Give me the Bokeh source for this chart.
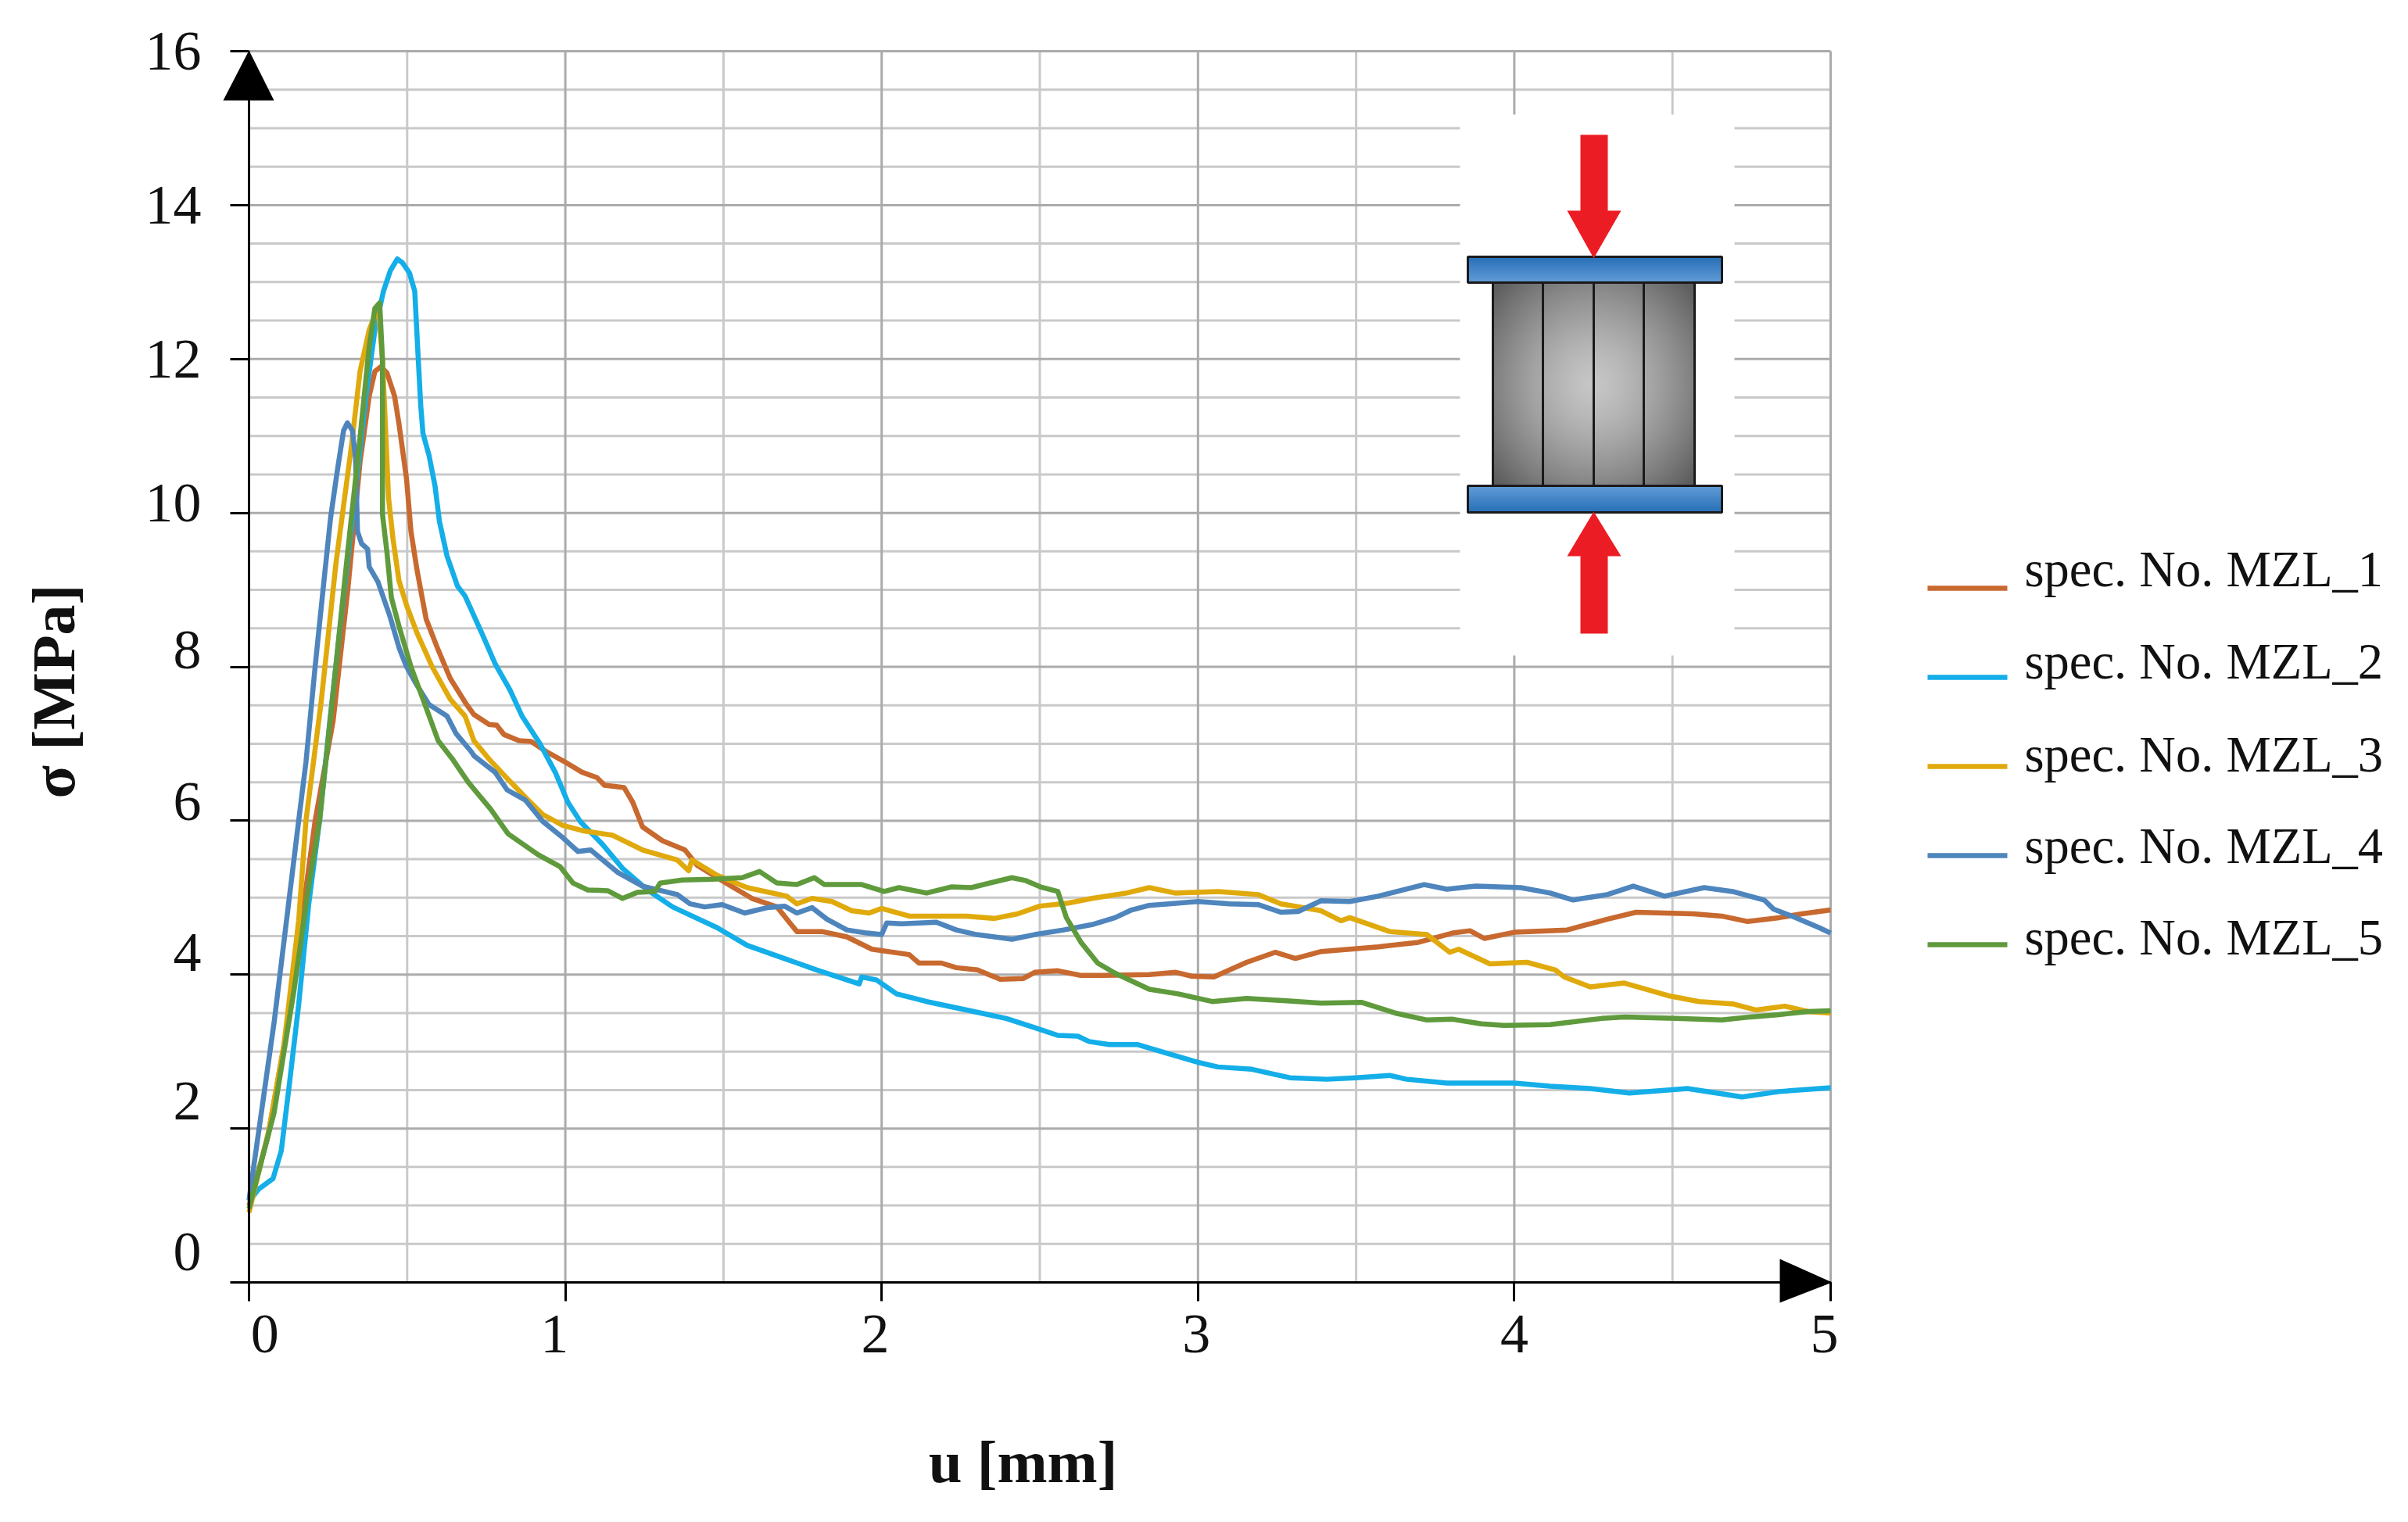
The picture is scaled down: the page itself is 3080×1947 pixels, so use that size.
import numpy as np
from math import pi
from bokeh.plotting import figure
from bokeh.embed import file_html
from bokeh.resources import INLINE
from bokeh.models import (Range1d, LinearAxis, FixedTicker, Label)

SERIF = "Liberation Serif"

names = ["spec. No. MZL_1", "spec. No. MZL_2", "spec. No. MZL_3", "spec. No. MZL_4", "spec. No. MZL_5"]
colors = ["#C8692F", "#14AEE8", "#E0A90C", "#4E85BD", "#5F9A3C"]

x_tick_values = [0, 1, 2, 3, 4, 5]
x_minor_values = [0.5, 1.5, 2.5, 3.5, 4.5]
y_tick_values = [0, 2, 4, 6, 8, 10, 12, 14, 16]
y_minor_values = [0.5, 1, 1.5, 2.5, 3, 3.5, 4.5, 5, 5.5, 6.5, 7, 7.5, 8.5, 9, 9.5, 10.5, 11, 11.5,
                  12.5, 13, 13.5, 14.5, 15, 15.5]
# printed tick labels do not sit exactly on their ticks in the reference
x_label_at = {0.05: "0", 0.966: "1", 1.98: "2", 2.995: "3", 4.0: "4", 4.98: "5"}
y_label_at = {0.4: "0", 2.36: "2", 4.29: "4", 6.25: "6", 8.22: "8", 10.13: "10", 12.0: "12", 14.0: "14", 16.0: "16"}

mzl1_u = [0,.06,.12,.209,.266,.313,.351,.38,.398,.417,.436,.46,.474,.498,.512,.531,.56,.598,.636,.683,.711,.759,.783,.806,.854,.892,.939,.996,1.053,1.1,1.124,1.186,1.213,1.244,1.307,1.378,1.417,1.496,1.59,1.669,1.732,1.811,1.89,1.969,2.087,2.118,2.189,2.236,2.303,2.375,2.448,2.484,2.557,2.629,2.7,2.846,2.93,2.98,3.05,3.154,3.244,3.308,3.39,3.57,3.697,3.805,3.86,3.905,4.0,4.167,4.294,4.385,4.566,4.656,4.738,4.837,4.91,5]
mzl1_s = [1,1.9,3.3,6,7.3,9.03,10.66,11.52,11.84,11.9,11.82,11.52,11.16,10.44,9.76,9.26,8.62,8.22,7.85,7.54,7.38,7.25,7.24,7.12,7.04,7.03,6.9,6.77,6.63,6.56,6.46,6.43,6.24,5.92,5.74,5.62,5.42,5.22,4.99,4.88,4.56,4.56,4.49,4.33,4.26,4.15,4.15,4.09,4.06,3.94,3.95,4.03,4.05,3.99,3.99,4.0,4.03,3.98,3.97,4.16,4.29,4.21,4.3,4.36,4.42,4.54,4.57,4.47,4.55,4.58,4.72,4.81,4.79,4.76,4.69,4.74,4.79,4.84]

mzl2_u = [0,.03,.076,.102,.126,.157,.189,.223,.256,.285,.323,.37,.398,.425,.447,.469,.485,.507,.524,.535,.543,.55,.569,.588,.602,.626,.659,.683,.74,.778,.825,.863,.92,.968,1.008,1.047,1.118,1.181,1.26,1.339,1.48,1.575,1.685,1.795,1.929,1.937,1.984,2.047,2.142,2.268,2.394,2.484,2.557,2.62,2.656,2.72,2.81,2.9,3.0,3.063,3.17,3.29,3.407,3.5,3.606,3.66,3.787,4.0,4.113,4.24,4.364,4.547,4.72,4.837,5]
mzl2_s = [1.05,1.21,1.35,1.71,2.52,3.61,4.92,6,7.31,8.4,9.8,11.52,12.38,12.88,13.15,13.3,13.25,13.12,12.88,12.0,11.39,11.03,10.75,10.35,9.89,9.44,9.05,8.92,8.4,8.04,7.7,7.36,7,6.63,6.24,5.99,5.69,5.38,5.1,4.88,4.61,4.38,4.22,4.06,3.88,3.97,3.93,3.75,3.65,3.54,3.43,3.31,3.21,3.2,3.13,3.09,3.09,2.98,2.86,2.8,2.77,2.66,2.64,2.66,2.69,2.64,2.59,2.59,2.55,2.52,2.46,2.52,2.41,2.48,2.53]

mzl3_u = [0,.063,.11,.157,.18,.228,.275,.323,.351,.38,.398,.41,.422,.432,.441,.455,.474,.498,.531,.579,.636,.683,.711,.759,.816,.882,.929,.992,1.055,1.15,1.244,1.354,1.39,1.40,1.48,1.575,1.7,1.732,1.78,1.843,1.905,1.96,2,2.087,2.268,2.357,2.43,2.5,2.59,2.665,2.774,2.846,2.928,3.063,3.19,3.262,3.389,3.452,3.48,3.606,3.724,3.796,3.824,3.923,4.04,4.13,4.158,4.24,4.348,4.493,4.584,4.69,4.765,4.855,4.928,5]
mzl3_s = [.91,1.98,3.07,4.7,6,7.54,9.35,10.84,11.84,12.38,12.57,12.6,11.98,11.07,10.2,9.67,9.12,8.8,8.44,8,7.58,7.36,7.04,6.8,6.55,6.27,6.08,5.94,5.87,5.81,5.62,5.49,5.35,5.49,5.29,5.13,5.02,4.92,4.99,4.95,4.83,4.8,4.86,4.76,4.76,4.73,4.79,4.89,4.93,4.99,5.06,5.13,5.06,5.08,5.04,4.92,4.83,4.7,4.74,4.56,4.52,4.29,4.33,4.14,4.16,4.06,3.97,3.84,3.89,3.72,3.65,3.62,3.54,3.59,3.52,3.5]

mzl4_u = [0,.08,.157,.18,.209,.237,.258,.28,.299,.311,.327,.337,.343,.356,.375,.38,.408,.446,.475,.498,.531,.569,.626,.655,.702,.712,.778,.816,.873,.929,.992,1.04,1.08,1.165,1.244,1.354,1.394,1.44,1.496,1.567,1.638,1.693,1.732,1.78,1.827,1.89,1.953,2.0,2.016,2.063,2.173,2.236,2.3,2.412,2.484,2.575,2.665,2.738,2.79,2.846,3.0,3.1,3.19,3.262,3.317,3.389,3.48,3.57,3.715,3.787,3.878,4.02,4.113,4.186,4.294,4.376,4.475,4.6,4.69,4.79,4.82,4.89,4.964,5]
mzl4_s = [1.07,3.4,6,6.76,8,9.12,9.94,10.57,11.07,11.17,11.07,10.7,9.76,9.6,9.53,9.3,9.1,8.65,8.24,8,7.76,7.51,7.36,7.13,6.9,6.84,6.63,6.4,6.27,5.99,5.78,5.6,5.62,5.33,5.15,5.04,4.92,4.88,4.91,4.8,4.87,4.89,4.8,4.87,4.72,4.58,4.54,4.52,4.67,4.66,4.68,4.58,4.52,4.46,4.52,4.58,4.65,4.74,4.84,4.9,4.95,4.92,4.91,4.81,4.82,4.96,4.95,5.02,5.17,5.11,5.15,5.13,5.06,4.97,5.04,5.15,5.02,5.13,5.08,4.97,4.85,4.74,4.61,4.54]

mzl5_u = [0,.079,.142,.189,.223,.266,.313,.351,.38,.398,.413,.422,.422,.436,.45,.474,.512,.55,.598,.645,.693,.764,.819,.913,.984,1.024,1.071,1.134,1.181,1.228,1.283,1.3,1.37,1.465,1.559,1.614,1.669,1.732,1.787,1.819,1.937,2.008,2.055,2.142,2.22,2.283,2.412,2.457,2.502,2.557,2.584,2.63,2.683,2.737,2.846,2.937,3.045,3.154,3.28,3.389,3.516,3.624,3.724,3.805,3.896,3.968,4.113,4.276,4.348,4.511,4.656,4.747,4.837,4.928,5]
mzl5_s = [.96,2.2,3.79,5.15,6,7.67,9.53,10.98,12.16,12.66,12.73,11.98,9.98,9.49,8.9,8.53,8.0,7.58,7.04,6.79,6.5,6.15,5.83,5.56,5.4,5.19,5.1,5.09,4.99,5.07,5.08,5.19,5.23,5.24,5.26,5.34,5.19,5.17,5.26,5.17,5.17,5.08,5.13,5.06,5.14,5.13,5.26,5.22,5.14,5.08,4.74,4.42,4.15,4.02,3.81,3.75,3.65,3.69,3.66,3.63,3.64,3.5,3.41,3.42,3.36,3.34,3.35,3.43,3.45,3.43,3.41,3.45,3.48,3.52,3.53]

series = [(mzl1_u, mzl1_s), (mzl2_u, mzl2_s), (mzl3_u, mzl3_s), (mzl4_u, mzl4_s), (mzl5_u, mzl5_s)]

# page geometry (reference pixels): data frame of the chart inside the page
LEFT, RIGHT, TOP, BOTTOM = 318, 2341, 65, 1640
W, H = 3064, 1931
def X(px):
    return (px - LEFT) / (RIGHT - LEFT) * 5
def Y(py):
    return (BOTTOM - py) / (BOTTOM - TOP) * 16

# The Bokeh frame covers the whole page, so that arrowheads, legend and titles are not clipped.
p = figure(width=W, height=H, output_backend="svg", toolbar_location=None,
           x_range=Range1d(X(0), X(W)), y_range=Range1d(Y(H), Y(0)),
           x_axis_location=None, y_axis_location=None,
           min_border_left=0, min_border_right=0, min_border_top=0, min_border_bottom=0,
           outline_line_color=None, background_fill_color="white", border_fill_color="white")
p.grid.visible = False

GRID_MAJOR, GRID_MINOR = "#ABABAB", "#C9C9C9"
p.segment(x_minor_values, 0, x_minor_values, 16, line_color=GRID_MINOR, line_width=3, level="underlay")
p.segment(0, y_minor_values, 5, y_minor_values, line_color=GRID_MINOR, line_width=3, level="underlay")
p.segment(x_tick_values, 0, x_tick_values, 16, line_color=GRID_MAJOR, line_width=3, level="underlay")
p.segment(0, y_tick_values, 5, y_tick_values, line_color=GRID_MAJOR, line_width=3, level="underlay")

# white panel behind the inset
p.quad(left=X(1867), right=X(2218), bottom=Y(838), top=Y(146),
       fill_color="white", line_color=None, level="underlay")

def rule_axis(ticks, bounds, loc, side):
    a = LinearAxis(ticker=FixedTicker(ticks=[], minor_ticks=ticks), bounds=bounds, fixed_location=loc)
    a.axis_line_color = "black"; a.axis_line_width = 3
    a.major_tick_line_color = None
    a.minor_tick_line_color = "black"; a.minor_tick_line_width = 3
    a.minor_tick_out = 24; a.minor_tick_in = 0
    p.add_layout(a, side)

def label_axis(ticks, loc, standoff, side):
    a = LinearAxis(ticker=FixedTicker(ticks=list(ticks.keys())), major_label_overrides=ticks, fixed_location=loc)
    a.axis_line_color = None; a.major_tick_line_color = None; a.minor_tick_line_color = None
    a.major_tick_out = 0; a.major_tick_in = 0
    a.major_label_text_font = SERIF; a.major_label_text_font_size = "72px"
    a.major_label_text_color = "#111111"
    a.major_label_standoff = standoff
    p.add_layout(a, side)

rule_axis(y_tick_values, (0, 16), 0, "left")
rule_axis(x_tick_values, (0, 5), 0, "below")
label_axis(y_label_at, 0, 61, "left")
label_axis(x_label_at, 0, 42, "below")

for (u, s), c in zip(series, colors):
    p.line(u, s, line_color=c, line_width=6.5, line_join="round")

# inset diagram: specimen
n = 128
yy, xx = np.mgrid[-1:1:n*1j, -1:1:n*1j]
r = np.clip(np.sqrt(xx**2 * 0.95 + yy**2 * 0.85) / 1.3, 0, 1)
g = (198 - 105 * r**1.4).astype(np.uint32)
spec = ((255 << 24) | (g << 16) | (g << 8) | g).astype(np.uint32)
p.image_rgba(image=[spec], x=X(1909), y=Y(621), dw=X(2167) - X(1909), dh=Y(361) - Y(621), level="glyph")
for px in (1909, 1973, 2038, 2102, 2167):
    p.line([X(px), X(px)], [Y(361), Y(621)], line_color="#1A1A1A", line_width=3)

# plates with a vertical blue ramp
t = np.linspace(0, 1, 40)[:, None]
def ramp(a, b):
    rr = (a[0] + (b[0] - a[0]) * t).astype(np.uint32)
    gg = (a[1] + (b[1] - a[1]) * t).astype(np.uint32)
    bb = (a[2] + (b[2] - a[2]) * t).astype(np.uint32)
    return ((255 << 24) | (bb << 16) | (gg << 8) | rr).astype(np.uint32)
dark, light = (40, 112, 184), (98, 156, 216)
# image row 0 is drawn at the bottom
p.image_rgba(image=[ramp(light, dark)], x=X(1877), y=Y(361), dw=X(2202) - X(1877), dh=Y(328) - Y(361), level="glyph")
p.image_rgba(image=[ramp(dark, light)], x=X(1877), y=Y(655), dw=X(2202) - X(1877), dh=Y(621) - Y(655), level="glyph")
for top, bot in ((328, 361), (621, 655)):
    p.quad(left=X(1877), right=X(2202), top=Y(top), bottom=Y(bot),
           fill_color=None, line_color="#1A1A1A", line_width=3)

# red load arrows
RED = "#EC1C24"
p.patch([X(v) for v in (2021, 2056, 2056, 2073, 2038, 2004, 2021)],
        [Y(v) for v in (172, 172, 269, 269, 330, 269, 269)], fill_color=RED, line_color=None)
p.patch([X(v) for v in (2021, 2056, 2056, 2073, 2038, 2004, 2021)],
        [Y(v) for v in (810, 810, 711, 711, 654, 711, 711)], fill_color=RED, line_color=None)

# axis arrowheads
p.patch([X(285), X(318), X(350)], [Y(128), Y(64), Y(128)], fill_color="black", line_color=None)
p.patch([X(2276), X(2343), X(2276)], [Y(1610), Y(1640), Y(1666)], fill_color="black", line_color=None)

# axis titles
p.add_layout(Label(x=X(1308), y=Y(1869), text="u [mm]", text_font=SERIF, text_font_style="bold",
                   text_font_size="77px", text_align="center", text_baseline="middle", text_color="#111111"))
p.add_layout(Label(x=X(68), y=Y(884), text="σ [MPa]", text_font=SERIF, text_font_style="bold", angle=pi/2,
                   text_font_size="78px", text_align="center", text_baseline="middle", text_color="#111111"))

# legend: the key lines and the text rows drift apart slightly in the reference
key_rows = (752, 866, 980, 1094, 1208)
text_rows = (728, 846, 965, 1082, 1199)
for name, c, ky, ty in zip(names, colors, key_rows, text_rows):
    p.line([X(2465), X(2567)], [Y(ky), Y(ky)], line_color=c, line_width=6.5)
    p.add_layout(Label(x=X(2589), y=Y(ty), text=name, text_font=SERIF, text_font_size="64.5px",
                       text_align="left", text_baseline="alphabetic", text_color="#111111"))

open("out.html", "w").write(file_html(p, INLINE))
